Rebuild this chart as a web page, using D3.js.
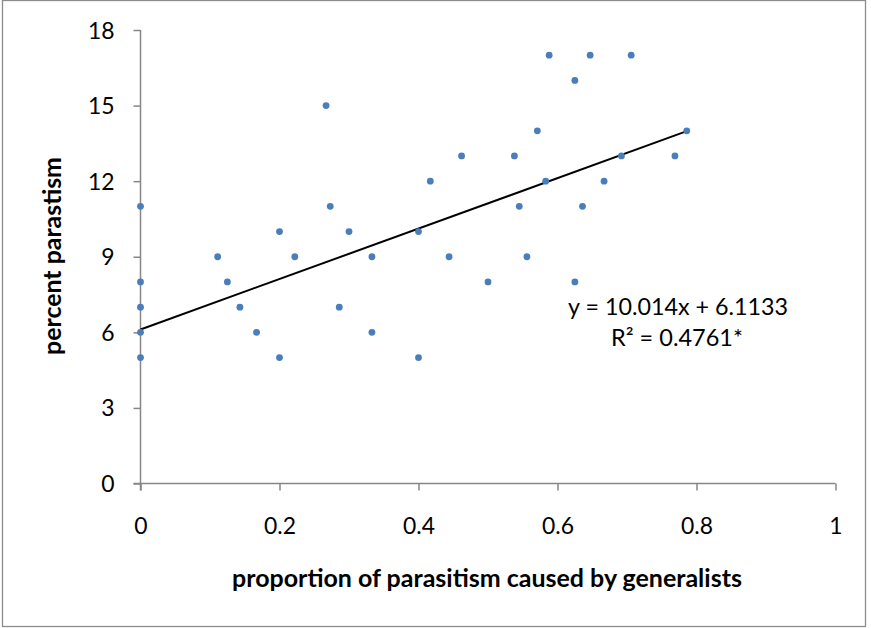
<!DOCTYPE html>
<html>
<head>
<meta charset="utf-8">
<script src="https://cdn.jsdelivr.net/npm/d3@7/dist/d3.min.js"></script>
<style>
  html, body { margin: 0; padding: 0; background: #fff; }
  svg { display: block; }
</style>
</head>
<body>
<svg id="chart" width="871" height="628"></svg>
<script>
// ---- data ----
const proportionGeneralists = [0, 0, 0, 0, 0, 0.111, 0.125, 0.143, 0.167, 0.2, 0.2, 0.222, 0.267, 0.273, 0.286, 0.3, 0.333, 0.333, 0.4, 0.4, 0.417, 0.444, 0.462, 0.5, 0.538, 0.545, 0.556, 0.571, 0.583, 0.588, 0.625, 0.625, 0.636, 0.647, 0.667, 0.692, 0.706, 0.769, 0.786];
const percentParasitism = [11, 8, 7, 6, 5, 9, 8, 7, 6, 10, 5, 9, 15, 11, 7, 10, 9, 6, 10, 5, 12, 9, 13, 8, 13, 11, 9, 14, 12, 17, 16, 8, 11, 17, 12, 13, 17, 13, 14];
const trendSlope = 10.014;
const trendIntercept = 6.1133;
const xTicks = [0, 0.2, 0.4, 0.6, 0.8, 1];
const yTicks = [0, 3, 6, 9, 12, 15, 18];
const xTitle = "proportion of parasitism caused by generalists";
const yTitle = "percent parastism";
const eqLine1 = "y = 10.014x + 6.1133";
const eqLine2 = "R² = 0.4761*";

// ---- layout ----
const svg = d3.select("#chart");
const FONT = "Lato, 'Open Sans', sans-serif";
const axisColor = "#868686";
const dotColor = "#4a7ebb";

svg.append("rect").attr("x", 0).attr("y", 0).attr("width", 871).attr("height", 628).attr("fill", "#fff");
svg.append("rect").attr("x", 2.5).attr("y", 0.5).attr("width", 863).attr("height", 626)
  .attr("fill", "none").attr("stroke", "#8c8c8c").attr("stroke-width", 1.3);

const x = d3.scaleLinear().domain([0, 1]).range([140.5, 835.5]);
const y = d3.scaleLinear().domain([0, 18]).range([483.5, 30]);

function fit(sel, target) {
  const base = 20;
  sel.attr("font-size", base);
  const w = sel.node().getComputedTextLength();
  sel.attr("font-size", base * target / w);
  return base * target / w;
}

// tick font size fitted from "0.2" width
const probe = svg.append("text").attr("font-family", FONT).text("0.2");
const tickFs = fit(probe, 32);
probe.remove();

// axes
const xAxis = d3.axisBottom(x).tickValues(xTicks).tickSize(7).tickSizeOuter(0)
  .tickFormat(d => String(d));
const gx = svg.append("g").attr("transform", `translate(0,${y(0)})`).call(xAxis);
gx.select(".domain").attr("stroke", axisColor).attr("stroke-width", 1.5)
  .attr("d", `M${x(0) - 7},0H${x(1)}`);
gx.selectAll(".tick line").attr("stroke", axisColor).attr("stroke-width", 1.5);
gx.selectAll(".tick text").attr("font-family", FONT).attr("font-size", tickFs)
  .attr("fill", "#000").attr("y", 0).attr("dy", 0).attr("transform", "translate(0,50)");

const yAxis = d3.axisLeft(y).tickValues(yTicks).tickSize(7).tickSizeOuter(0)
  .tickFormat(d => String(d));
const gy = svg.append("g").attr("transform", `translate(${x(0)},0)`).call(yAxis);
gy.select(".domain").attr("stroke", axisColor).attr("stroke-width", 1.5)
  .attr("d", `M0,${y(0) + 7}V${y(18)}`);
gy.selectAll(".tick line").attr("stroke", axisColor).attr("stroke-width", 1.5);
gy.selectAll(".tick text").attr("font-family", FONT).attr("font-size", tickFs)
  .attr("fill", "#000").attr("x", -26).attr("dy", "0.35em");

// trendline
const xMaxData = d3.max(proportionGeneralists);
svg.append("line")
  .attr("x1", x(0)).attr("y1", y(trendIntercept))
  .attr("x2", x(xMaxData)).attr("y2", y(trendSlope * xMaxData + trendIntercept))
  .attr("stroke", "#000").attr("stroke-width", 2);

// dots
svg.append("g").selectAll("circle")
  .data(proportionGeneralists.map((d, i) => [d, percentParasitism[i]]))
  .join("circle")
  .attr("cx", d => x(d[0])).attr("cy", d => y(d[1])).attr("r", 3.4)
  .attr("fill", dotColor);

// equation
const e1 = svg.append("text").attr("font-family", FONT).attr("text-anchor", "middle")
  .attr("x", 678).attr("y", 315).attr("fill", "#000").text(eqLine1);
fit(e1, 220);
const e2 = svg.append("text").attr("font-family", FONT).attr("text-anchor", "middle")
  .attr("x", 677).attr("y", 346).attr("fill", "#000").text(eqLine2);
fit(e2, 132);

// titles
const xt = svg.append("text").attr("font-family", FONT).attr("font-weight", "bold")
  .attr("text-anchor", "middle").attr("x", 487).attr("y", 587).attr("fill", "#000").text(xTitle);
fit(xt, 510);
const yt = svg.append("text").attr("font-family", FONT).attr("font-weight", "bold")
  .attr("text-anchor", "middle").attr("transform", "translate(61,256) rotate(-90)")
  .attr("fill", "#000").text(yTitle);
fit(yt, 198);
</script>
</body>
</html>
